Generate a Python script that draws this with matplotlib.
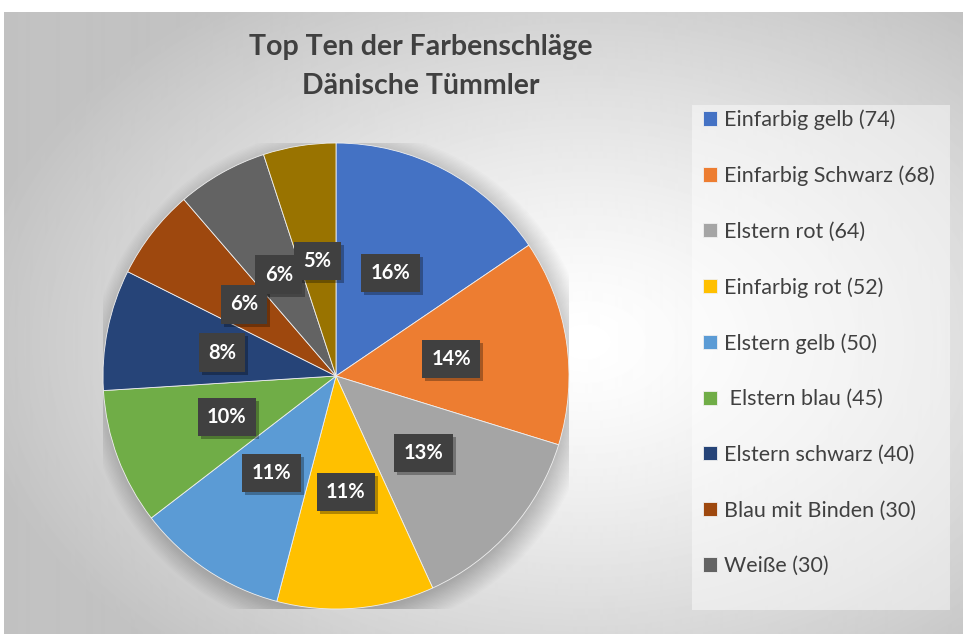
import numpy as np
import matplotlib
matplotlib.use("Agg")
import matplotlib.pyplot as plt
from matplotlib.patches import Rectangle, Circle

plt.rcParams['font.family'] = ['Lato', 'DejaVu Sans']

names = ["Einfarbig gelb (74)", "Einfarbig Schwarz (68)", "Elstern rot (64)",
         "Einfarbig rot (52)", "Elstern gelb (50)", " Elstern blau (45)",
         "Elstern schwarz (40)", "Blau mit Binden (30)", "Weiße (30)", "(10.)"]
values = [74, 68, 64, 52, 50, 45, 40, 30, 30, 24]
pct_labels = ["16%", "14%", "13%", "11%", "11%", "10%", "8%", "6%", "6%", "5%"]
colors = ["#4472C4", "#ED7D31", "#A5A5A5", "#FFC000", "#5B9BD5", "#70AD47",
          "#264478", "#9E480E", "#636363", "#997300"]

W, H = 963, 634
fig = plt.figure(figsize=(W / 100, H / 100), dpi=100)

# background: white margin + radial grey gradient
bg = fig.add_axes([4 / W, 0, 1 - 4 / W, (H - 12) / H], zorder=-10)
yy, xx = np.mgrid[0:H - 12, 0:W - 4]
d = np.sqrt(((xx - 580) / 620.0) ** 2 + ((yy - 330) / 420.0) ** 2)
shade = 1 - 0.24 * np.clip(d, 0, 1) ** 1.3
bg.imshow(shade, cmap="gray", vmin=0, vmax=1, aspect="auto", interpolation="bilinear")
bg.axis("off")

# pie
cx, cy, R = 336, 376, 233
ax = fig.add_axes([(cx - R) / W, (H - cy - R) / H, 2 * R / W, 2 * R / H])
for i in range(20):
    ax.add_patch(Circle((0.02, -0.025), 0.97 + 0.006 * i, color="black",
                        alpha=0.012, lw=0, zorder=0))
wedges, _ = ax.pie(values, colors=colors, startangle=90, counterclock=False,
                   radius=1.0, wedgeprops=dict(edgecolor="#f0f0f0", linewidth=0.6))
for w in wedges:
    w.set_zorder(2)

total = float(sum(values))
ang = 90.0
pct_texts = []
for v, lab in zip(values, pct_labels):
    span = 360.0 * v / total
    mid = np.deg2rad(ang - span / 2)
    ang -= span
    x, y = 0.5 * np.cos(mid), 0.5 * np.sin(mid)
    t = ax.text(x, y, lab, ha="center", va="center", fontsize=14.5, fontweight="bold",
                color="white", zorder=5,
                bbox=dict(boxstyle="square,pad=0.46", fc="#404040", ec="none"))
    pct_texts.append(t)
ax.set_xlim(-1, 1)
ax.set_ylim(-1, 1)
ax.axis("off")

# title
fig.text(421 / W, 1 - 47 / H, "Top Ten der Farbenschläge", ha="center", va="center",
         fontsize=20.5, fontweight="bold", color="#404040")
fig.text(421 / W, 1 - 86 / H, "Dänische Tümmler", ha="center", va="center",
         fontsize=20.5, fontweight="bold", color="#404040")

# legend box
fig.patches.append(Rectangle((692 / W, 1 - 610 / H), (950 - 692) / W, (610 - 105) / H,
                             transform=fig.transFigure, fc="white", ec="none",
                             alpha=0.45, zorder=1))
leg = fig.legend(wedges[:9], names[:9], loc="upper left",
                 bbox_to_anchor=(684 / W, 1 - 90 / H), frameon=False,
                 fontsize=15.5, labelcolor="#404040", labelspacing=1.65,
                 handlelength=0.65, handleheight=0.65, handletextpad=0.3)

# drop shadows behind the percentage boxes
fig.canvas.draw()
r = fig.canvas.get_renderer()
for t in pct_texts:
    bb = t.get_bbox_patch().get_window_extent(r)
    ax.add_patch(Rectangle((bb.x0 + 3, bb.y0 - 3), bb.width, bb.height,
                           transform=None, fc="black", ec="none", alpha=0.3, zorder=4))

fig.savefig("out.png", dpi=100)
